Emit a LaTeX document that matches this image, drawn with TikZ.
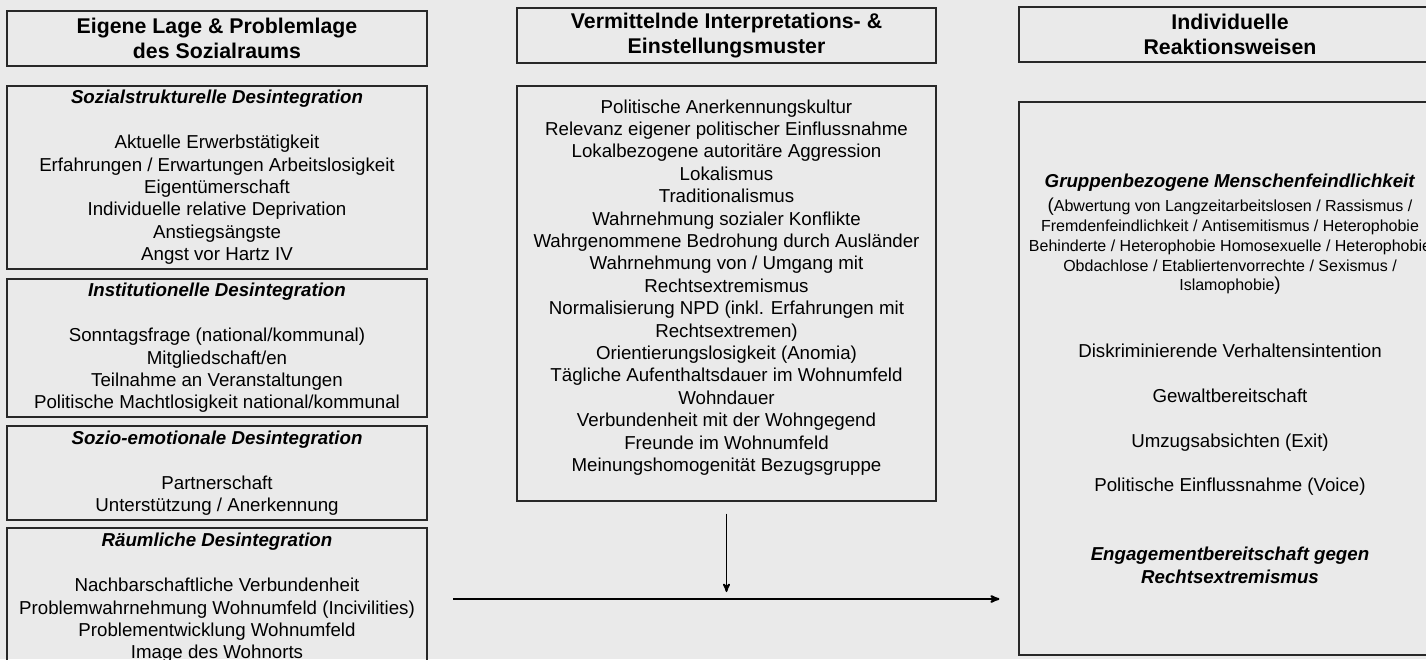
\documentclass[tikz,border=0pt]{standalone}
\usepackage{fontspec}
\setmainfont{Liberation Sans}
\usepackage{tikz}
\usetikzlibrary{arrows}
\tikzset{>=stealth'}
\newcommand{\grundschrift}{\fontsize{18.7}{22.4}\selectfont}% Listen
\newcommand{\kopfschrift}{\fontsize{21.3}{25.3}\selectfont\bfseries}% Spaltenkoepfe
\newcommand{\kleinschrift}{\fontsize{16}{19.75}\selectfont}% Klammerliste
\newcommand{\titel}[1]{\textbf{\textit{#1}}}
\definecolor{hinter}{RGB}{234, 234, 234}
\definecolor{rahmen}{RGB}{40, 40, 40}
\tikzset{
	kasten/.style={draw=rahmen, line width=1.2pt, minimum width=420pt, inner sep=0pt, align=center, font=\grundschrift},
	kopf/.style={kasten, minimum height=55pt, font=\kopfschrift},
	zeilen/.style={inner sep=0pt, align=center, font=\grundschrift}
}

\begin{document}
\begin{tikzpicture}[x=1pt, y=-1pt]
				\useasboundingbox (0,0) rectangle (1426,659);
				\clip (0,0) rectangle (1426,659);
				\fill[hinter] (0,0) rectangle (1426,659);

				% Spaltenkoepfe
				\node[kopf] (kopfL) at (217,38.5) {Eigene Lage \& Problemlage\\des Sozialraums};
				\node[kopf, minimum width=419pt] (kopfM) at (726.5,35.5) {Vermittelnde Interpretations- \&\\Einstellungsmuster};
				\node[kopf, minimum width=422pt] (kopfR) at (1230,34.5) {Individuelle\\Reaktionsweisen};

				% linke Spalte
				\node[kasten, minimum height=183pt] (sozial) at (217,177.5) {\titel{Sozialstrukturelle Desintegration}\\[22.4pt]
					Aktuelle Erwerbstätigkeit\\Erfahrungen / Erwartungen Arbeitslosigkeit\\Eigentümerschaft\\
					Individuelle relative Deprivation\\Anstiegsängste\\Angst vor Hartz IV};
				\node[kasten, minimum height=138pt] (instit) at (217,348) {\titel{Institutionelle Desintegration}\\[22.4pt]
					Sonntagsfrage (national/kommunal)\\Mitgliedschaft/en\\Teilnahme an Veranstaltungen\\
					Politische Machtlosigkeit national/kommunal};
				\node[kasten, minimum height=94pt] (emot) at (217,473) {\titel{Sozio-emotionale Desintegration}\\[22.4pt]
					Partnerschaft\\Unterstützung / Anerkennung};
				\node[kasten, minimum height=140pt] (raum) at (217,598) {\titel{Räumliche Desintegration}\\[22.4pt]
					Nachbarschaftliche Verbundenheit\\Problemwahrnehmung Wohnumfeld (Incivilities)\\
					Problementwicklung Wohnumfeld\\Image des Wohnorts};

				% mittlere Spalte
				\node[kasten, minimum width=419pt, minimum height=415pt] (muster) at (726.5,293.5) {};
				\node[zeilen] (musterliste) at (726.5,287.5) {Politische Anerkennungskultur\\
					Relevanz eigener politischer Einflussnahme\\Lokalbezogene autoritäre Aggression\\
					Lokalismus\\Traditionalismus\\Wahrnehmung sozialer Konflikte\\
					Wahrgenommene Bedrohung durch Ausländer\\Wahrnehmung von / Umgang mit\\Rechtsextremismus\\
					Normalisierung NPD (inkl. Erfahrungen mit\\Rechtsextremen)\\Orientierungslosigkeit (Anomia)\\
					Tägliche Aufenthaltsdauer im Wohnumfeld\\Wohndauer\\Verbundenheit mit der Wohngegend\\
					Freunde im Wohnumfeld\\Meinungshomogenität Bezugsgruppe};

				% rechte Spalte
				\node[kasten, minimum width=422pt, minimum height=553pt] (reakt) at (1230,378.5) {};
				\node[zeilen] (gmf) at (1230,183) {\titel{Gruppenbezogene Menschenfeindlichkeit}};
				\node[zeilen, font=\kleinschrift] (gmfliste) at (1230,246.5) {{\grundschrift(}Abwertung von Langzeitarbeitslosen / Rassismus /\\
					Fremdenfeindlichkeit / Antisemitismus / Heterophobie\\
					Behinderte / Heterophobie Homosexuelle / Heterophobie\\
					Obdachlose / Etabliertenvorrechte / Sexismus /\\Islamophobie{\grundschrift)}};
				\node[zeilen] (verhalten) at (1230,420) {Diskriminierende Verhaltensintention\\[22.3pt]
					Gewaltbereitschaft\\[22.3pt]Umzugsabsichten (Exit)\\[22.3pt]Politische Einflussnahme (Voice)};
				\node[zeilen] (engagement) at (1230,565.5) {\titel{Engagementbereitschaft gegen}\\\titel{Rechtsextremismus}};

				% Pfeile
				\coordinate (start) at (453,599);
				\draw[->, line width=2pt, shorten >=19pt] (start) -- (start -| reakt.west);
				\draw[->, line width=1.8pt, shorten <=12pt, shorten >=7pt] (muster.south) -- (muster.south |- start);
			\end{tikzpicture}
\end{document}
